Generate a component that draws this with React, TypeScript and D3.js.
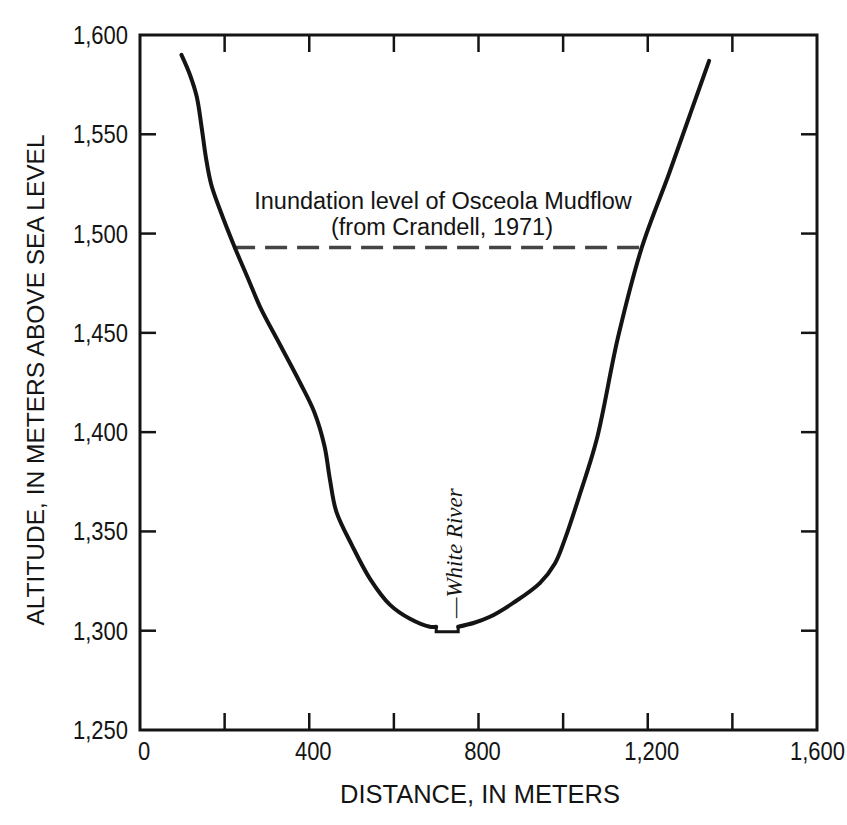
import React from "react";
import * as d3 from "d3";

// ---- data ----
const xTickValues = [0, 200, 400, 600, 800, 1000, 1200, 1400, 1600];
const xTickLabels = ["0", "", "400", "", "800", "", "1,200", "", "1,600"];
const yTickValues = [1250, 1300, 1350, 1400, 1450, 1500, 1550, 1600];
const yTickLabels = ["1,250", "1,300", "1,350", "1,400", "1,450", "1,500", "1,550", "1,600"];

// valley cross-section (distance m, altitude m)
const leftWall: [number, number][] = [
  [98, 1590], [118, 1580], [134, 1569], [146, 1553], [156, 1538], [168, 1525],
  [189, 1512], [224, 1493], [256, 1477], [284, 1463], [331, 1444], [378, 1425],
  [412, 1410], [436, 1393], [449, 1376], [464, 1360], [501, 1343], [544, 1326],
  [591, 1313], [638, 1306], [685, 1302], [700, 1302],
];
const riverNotch: [number, number][] = [
  [700, 1302], [700, 1299.5], [752, 1299.5], [752, 1302],
];
const rightWall: [number, number][] = [
  [752, 1302], [790, 1304], [827, 1307], [882, 1314], [945, 1324], [981, 1334],
  [1004, 1346], [1040, 1369], [1079, 1396], [1130, 1448], [1186, 1493],
  [1250, 1530], [1300, 1560], [1345, 1587],
];
const inundation: [number, number][] = [[220, 1493], [1186, 1493]];

const W = 847, H = 825;
const x = d3.scaleLinear().domain([0, 1600]).range([140, 817]);
const y = d3.scaleLinear().domain([1250, 1600]).range([730, 35]);

const smooth = d3.line<[number, number]>().x(d => x(d[0])).y(d => y(d[1])).curve(d3.curveCatmullRom.alpha(0.5));
const straight = d3.line<[number, number]>().x(d => x(d[0])).y(d => y(d[1]));

const ink = "#141414";
const sans = "'Liberation Sans', Arial, Helvetica, sans-serif";

export default function App() {
  const tickLen = 17;
  return (
    <svg width={W} height={H} style={{ display: "block", position: "absolute", left: 0, top: 0, background: "#fff" }}>
      <rect x={0} y={0} width={W} height={H} fill="#fff" />
      {/* frame */}
      <rect x={x(0)} y={y(1600)} width={x(1600) - x(0)} height={y(1250) - y(1600)} fill="none" stroke={ink} strokeWidth={3} />
      {/* x ticks */}
      {xTickValues.slice(1, -1).map(v => (
        <g key={"xt" + v}>
          <line x1={x(v)} x2={x(v)} y1={y(1250)} y2={y(1250) - tickLen} stroke={ink} strokeWidth={2.5} />
          <line x1={x(v)} x2={x(v)} y1={y(1600)} y2={y(1600) + tickLen} stroke={ink} strokeWidth={2.5} />
        </g>
      ))}
      {/* y ticks */}
      {yTickValues.slice(1, -1).map(v => (
        <g key={"yt" + v}>
          <line x1={x(0)} x2={x(0) + 16} y1={y(v)} y2={y(v)} stroke={ink} strokeWidth={2.5} />
          <line x1={x(1600)} x2={x(1600) - 16} y1={y(v)} y2={y(v)} stroke={ink} strokeWidth={2.5} />
        </g>
      ))}
      {/* x tick labels */}
      {xTickValues.map((v, i) => xTickLabels[i] ? (
        <text key={"xl" + v}
          transform={`translate(${i === xTickValues.length - 1 ? 845 : x(v) + 4},760) scale(0.88,1)`}
          textAnchor={i === xTickValues.length - 1 ? "end" : "middle"}
          fontFamily={sans} fontSize={25} fill={ink}>{xTickLabels[i]}</text>
      ) : null)}
      {/* y tick labels */}
      {yTickValues.map((v, i) => (
        <text key={"yl" + v} transform={`translate(128,${y(v) + 9}) scale(0.88,1)`} textAnchor="end"
          fontFamily={sans} fontSize={25} fill={ink}>{yTickLabels[i]}</text>
      ))}
      {/* axis titles */}
      <text x={480} y={803} textAnchor="middle" fontFamily={sans} fontSize={25.5} fill={ink}>DISTANCE, IN METERS</text>
      <text transform={`translate(44,380) rotate(-90)`} textAnchor="middle" fontFamily={sans} fontSize={24.5} fill={ink}>
        ALTITUDE, IN METERS ABOVE SEA LEVEL
      </text>
      {/* inundation line */}
      <path d={straight(inundation) || ""} fill="none" stroke="#444" strokeWidth={3.5} strokeDasharray="22,10" />
      <text x={443} y={209} textAnchor="middle" fontFamily={sans} fontSize={23.5} fill={ink}>Inundation level of Osceola Mudflow</text>
      <text x={442} y={235} textAnchor="middle" fontFamily={sans} fontSize={23.5} fill={ink}>(from Crandell, 1971)</text>
      {/* valley profile */}
      <path d={smooth(leftWall) || ""} fill="none" stroke={ink} strokeWidth={4} strokeLinecap="round" />
      <path d={straight(riverNotch) || ""} fill="none" stroke={ink} strokeWidth={3} />
      <path d={smooth(rightWall) || ""} fill="none" stroke={ink} strokeWidth={4} strokeLinecap="round" />
      {/* river label */}
      <text transform={`translate(462,618) rotate(-90)`} fontFamily="'Liberation Serif', 'Times New Roman', serif"
        fontStyle="italic" fontSize={23} fill={ink}>—White River</text>
    </svg>
  );
}
